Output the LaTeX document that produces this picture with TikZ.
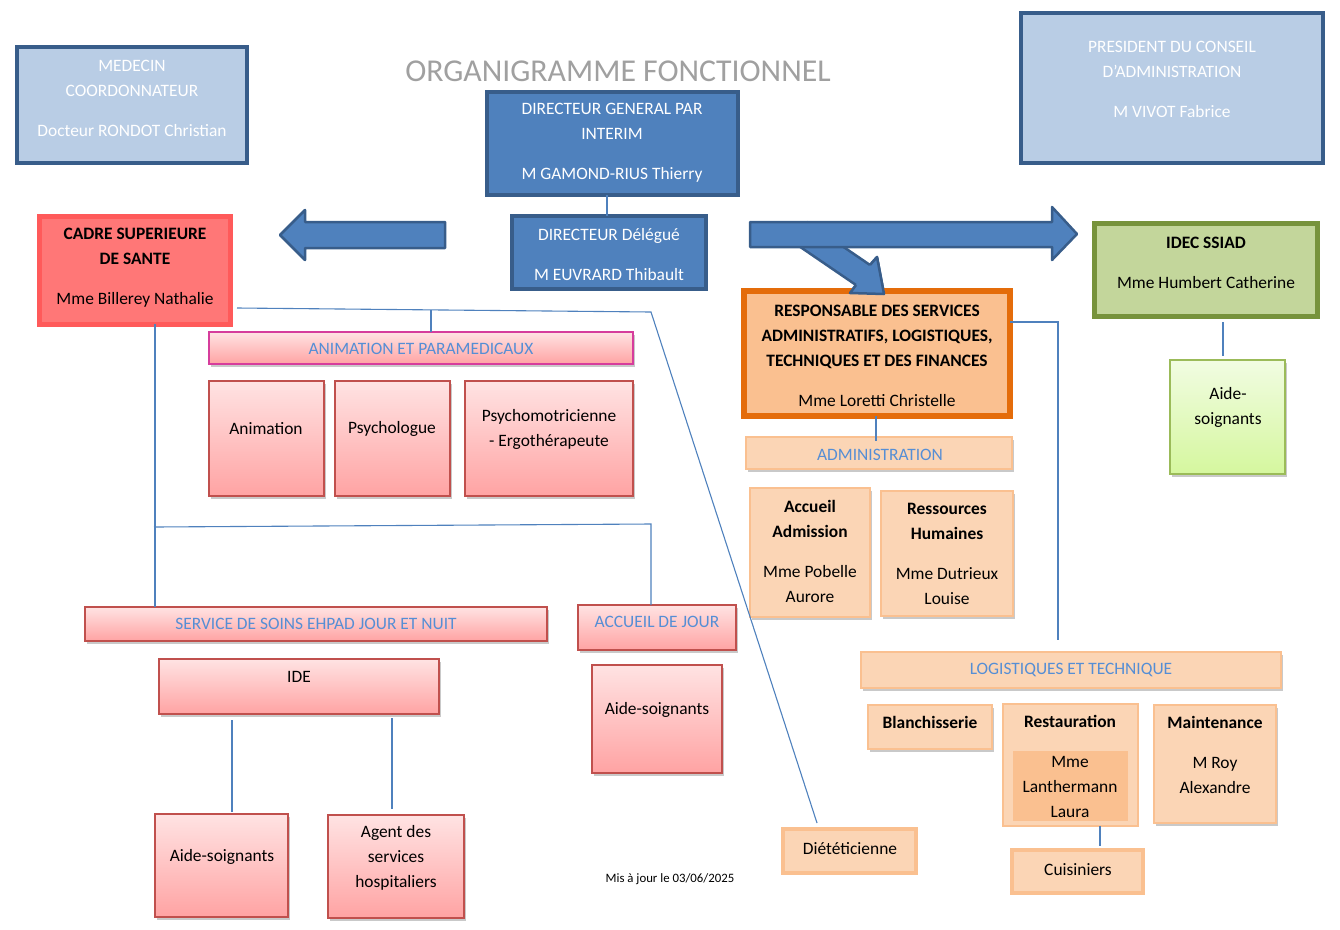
\documentclass[tikz,border=0pt]{standalone}
\usepackage{fontspec}
\setmainfont{Carlito}
\usetikzlibrary{shadows}
\definecolor{lblue}{HTML}{B9CDE5}
\definecolor{dblue}{HTML}{385D8A}
\definecolor{mblue}{HTML}{4F81BD}
\definecolor{hblue}{HTML}{558ED5}
\definecolor{cadrefill}{HTML}{FF7777}
\definecolor{cadreborder}{HTML}{FF5A5A}
\definecolor{orfill}{HTML}{FAC090}
\definecolor{orborder}{HTML}{E46C0A}
\definecolor{peach}{HTML}{FBD5B5}
\definecolor{grfill}{HTML}{C3D69B}
\definecolor{grborder}{HTML}{77933C}
\definecolor{pinktop}{HTML}{FFE3E3}
\definecolor{pinkbot}{HTML}{FFA3A3}
\definecolor{pinkborder}{HTML}{C0504D}
\definecolor{magborder}{HTML}{D63D9C}
\definecolor{lgtop}{HTML}{F1FCE2}
\definecolor{lgbot}{HTML}{D5F79E}
\definecolor{lgborder}{HTML}{9BBB59}
\definecolor{titlegray}{HTML}{A0A0A0}
\begin{document}
\begin{tikzpicture}[x=1pt,y=-1pt,
  box/.style={rectangle, inner sep=0pt, outer sep=0pt},
  sh/.style={drop shadow={opacity=0.3, shadow xshift=2pt, shadow yshift=-2.5pt, fill=black!70}},
  lbluebox/.style={box, fill=lblue, draw=dblue, line width=4pt},
  dbluebox/.style={box, fill=mblue, draw=dblue, line width=4pt},
  cadrebox/.style={box, sh, fill=cadrefill, draw=cadreborder, line width=5pt},
  orbox/.style={box, fill=orfill, draw=orborder, line width=5.5pt},
  grbox/.style={box, sh, fill=grfill, draw=grborder, line width=5pt},
  peachbox/.style={box, sh, fill=peach, draw=orfill, line width=1.2pt},
  peachthick/.style={box, fill=peach, draw=orfill, line width=4pt},
  pinkbox/.style={box, sh, top color=pinktop, bottom color=pinkbot, draw=pinkborder, line width=1.2pt},
  maghead/.style={box, sh, top color=pinktop, bottom color=pinkbot, draw=magborder, line width=1.2pt},
  lgbox/.style={box, sh, top color=lgtop, bottom color=lgbot, draw=lgborder, line width=1.2pt},
  txt/.style={font=\fontsize{17.4}{25}\selectfont, align=center, inner sep=0pt},
  conn/.style={draw=mblue, line width=1.1pt},
  blockarrow/.style={fill=mblue, draw=dblue, line width=2.5pt, line join=round}
]
\useasboundingbox (0,0) rectangle (1340,929);

% title
\node[font=\fontsize{31.8}{36}\selectfont, text=titlegray, inner sep=0pt] (title) at (618,71) {ORGANIGRAMME FONCTIONNEL};

% top boxes
\node[lbluebox, minimum width=230, minimum height=116] (medecin) at (132,105) {};
\node[txt, text=white] (medecin-t) at (132,98.5) {MEDECIN\\COORDONNATEUR\\[15pt]Docteur RONDOT Christian};

\node[dbluebox, minimum width=251, minimum height=103] (dg) at (612.5,143.5) {};
\node[txt, text=white] (dg-t) at (612,142.5) {DIRECTEUR GENERAL PAR\\INTERIM\\[15pt]M GAMOND-RIUS Thierry};

\node[dbluebox, minimum width=194, minimum height=73] (dd) at (609,252.5) {};
\node[txt, text=white] (dd-t) at (609,254.5) {DIRECTEUR Délégué\\[15pt]M EUVRARD Thibault};

\node[lbluebox, minimum width=302, minimum height=150] (pres) at (1172,88) {};
\node[txt, text=white] (pres-t) at (1172,79) {PRESIDENT DU CONSEIL\\D’ADMINISTRATION\\[15pt]M VIVOT Fabrice};

% arrows
\draw[blockarrow] (445,222) -- (305,222) -- (305,210) -- (280,235) -- (305,260) -- (305,248) -- (445,248) -- cycle;
\draw[blockarrow] (807,222) -- (870,265) -- (877,257) -- (884,294) -- (850,293) -- (856,285) -- (793,242) -- cycle;
\draw[blockarrow] (750,222) -- (1052,222) -- (1052,207) -- (1077,234) -- (1052,260) -- (1052,247) -- (750,247) -- cycle;

% cadre
\node[cadrebox, minimum width=191, minimum height=108] (cadre) at (134.5,270) {};
\node[txt] (cadre-t) at (135,267.5) {\textbf{CADRE SUPERIEURE}\\\textbf{DE SANTE}\\[15pt]Mme Billerey Nathalie};

% responsable
\node[orbox, minimum width=266, minimum height=125] (resp) at (877,353.5) {};
\draw[blockarrow] (870,265) -- (877,257) -- (884,294) -- (850,293) -- (856,285);
\node[txt] (resp-t) at (877,355.5) {\textbf{RESPONSABLE DES SERVICES}\\\textbf{ADMINISTRATIFS, LOGISTIQUES,}\\\textbf{TECHNIQUES ET DES FINANCES}\\[15pt]Mme Loretti Christelle};

% idec
\node[grbox, minimum width=223, minimum height=93] (idec) at (1205.5,269.5) {};
\node[txt] (idec-t) at (1206,262.5) {\textbf{IDEC SSIAD}\\[15pt]Mme Humbert Catherine};
\node[lgbox, minimum width=115, minimum height=114] (asg) at (1227.5,417) {};
\node[txt] (asg-t) at (1228,407.5) {Aide-\\soignants};

% administration
\node[peachbox, minimum width=266, minimum height=32] (admin) at (879,453) {};
\node[txt, text=hblue] (admin-t) at (880,455) {ADMINISTRATION};
\node[peachbox, minimum width=120, minimum height=129] (accueil) at (810,552.5) {};
\node[txt] (accueil-t) at (810,551.5) {\textbf{Accueil}\\\textbf{Admission}\\[15pt]Mme Pobelle\\Aurore};
\node[peachbox, minimum width=132, minimum height=125] (rh) at (947,553.5) {};
\node[txt] (rh-t) at (947,554) {\textbf{Ressources}\\\textbf{Humaines}\\[15pt]Mme Dutrieux\\Louise};

% logistique
\node[peachbox, minimum width=420, minimum height=36] (logi) at (1071,670) {};
\node[txt, text=hblue] (logi-t) at (1071,670) {LOGISTIQUES ET TECHNIQUE};
\node[peachbox, minimum width=124, minimum height=44] (blanch) at (930,727) {};
\node[txt] (blanch-t) at (930,722) {\textbf{Blanchisserie}};
\node[box, fill=peach, draw=orfill, line width=1.2pt, minimum width=135, minimum height=122] (resta) at (1070.5,765) {};
\node[txt] (resta-t) at (1070,721) {\textbf{Restauration}};
\node[box, fill=orfill, minimum width=115, minimum height=70] (restin) at (1070.5,786) {};
\node[txt] (restin-t) at (1070,786.5) {Mme\\Lanthermann\\Laura};
\node[peachbox, minimum width=122, minimum height=118] (maint) at (1215,764) {};
\node[txt] (maint-t) at (1215,755) {\textbf{Maintenance}\\[15pt]M Roy\\Alexandre};
\node[peachthick, minimum width=131, minimum height=43] (cuis) at (1077.5,871.5) {};
\node[txt] (cuis-t) at (1078,870) {Cuisiniers};
\node[peachthick, minimum width=133, minimum height=44] (diet) at (849.5,851) {};
\node[txt] (diet-t) at (850,849) {Diététicienne};

% animation
\node[maghead, minimum width=424, minimum height=32] (anim) at (421,348) {};
\node[txt, text=hblue] (anim-t) at (421,349) {ANIMATION ET PARAMEDICAUX};
\node[pinkbox, minimum width=115, minimum height=115] (animation) at (266.5,438.5) {};
\node[txt] (animation-t) at (266,429) {Animation};
\node[pinkbox, minimum width=115, minimum height=115] (psycho) at (392.5,438.5) {};
\node[txt] (psycho-t) at (392,429) {Psychologue};
\node[pinkbox, minimum width=168, minimum height=115] (psymot) at (549,438.5) {};
\node[txt] (psymot-t) at (549,429.5) {Psychomotricienne\\- Ergothérapeute};

% soins
\node[pinkbox, minimum width=462, minimum height=34] (soins) at (316,624) {};
\node[txt, text=hblue] (soins-t) at (316,624) {SERVICE DE SOINS EHPAD JOUR ET NUIT};
\node[pinkbox, minimum width=158, minimum height=45] (aj) at (657,627.5) {};
\node[txt, text=hblue] (aj-t) at (657,622) {ACCUEIL DE JOUR};
\node[pinkbox, minimum width=280, minimum height=55] (ide) at (299,686.5) {};
\node[txt] (ide-t) at (299,677) {IDE};
\node[pinkbox, minimum width=130, minimum height=108] (ajas) at (657,719) {};
\node[txt] (ajas-t) at (657,710) {Aide-soignants};
\node[pinkbox, minimum width=133, minimum height=103] (as) at (221.5,865.5) {};
\node[txt] (as-t) at (222,857) {Aide-soignants};
\node[pinkbox, minimum width=136, minimum height=103] (ash) at (396,866.5) {};
\node[txt] (ash-t) at (396,857.5) {Agent des\\services\\hospitaliers};

\node[font=\fontsize{12.8}{14}\selectfont, inner sep=0pt] (maj) at (670,879) {Mis à jour le 03/06/2025};

% connectors
\coordinate (k1) at (237,308);
\coordinate (k2) at (651,312);
\coordinate (k3) at (817,823);
\coordinate (k4) at (431,310);
\coordinate (k5) at (155,324);
\coordinate (k6) at (154,527);
\coordinate (k7) at (651,524);
\coordinate (k8) at (232,720);
\coordinate (k9) at (392,718);
\coordinate (k10) at (1010,322);
\coordinate (k11) at (1058,322);
\coordinate (k12) at (1058,640);
\coordinate (k13) at (1223,322);
\coordinate (k14) at (1100,846);
\coordinate (k15) at (607,216);
\coordinate (k16) at (876,441);
\draw[conn] (k1) -- (k2) -- (k3);
\draw[conn] (k4) -- (k4 |- anim.north);
\draw[conn] (k5) -- (k5 |- soins.north);
\draw[conn] (k6) -- (k7) -- (k7 |- aj.north);
\draw[conn] (k8) -- (k8 |- 0,812);
\draw[conn] (k9) -- (k9 |- 0,809);
\draw[conn] (k10) -- (k11) -- (k12);
\draw[conn] (k13) -- (k13 |- 0,356);
\draw[conn] (k14 |- resta.south) -- (k14);
\draw[conn] (k15 |- dg.south) -- (k15);
\draw[conn] (k16 |- resp.south) -- (k16);
\end{tikzpicture}
\end{document}
